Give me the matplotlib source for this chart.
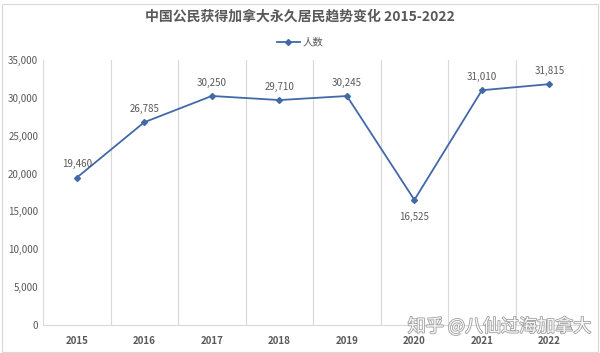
import matplotlib.pyplot as plt
import matplotlib.patheffects as pe
from matplotlib.ticker import FuncFormatter, MultipleLocator

plt.rcParams['font.family'] = ['Noto Sans CJK SC', 'DejaVu Sans']

# data
years = ['2015', '2016', '2017', '2018', '2019', '2020', '2021', '2022']
people = [19460, 26785, 30250, 29710, 30245, 16525, 31010, 31815]
label_below = [False, False, False, False, False, True, False, False]

line_color = '#4169A8'
text_color = '#595959'

fig = plt.figure(figsize=(6, 3.53), dpi=100)
ax = fig.add_axes([0.0717, 0.0793, 0.9003, 0.7507])

x = list(range(len(years)))
ax.plot(x, people, color=line_color, lw=1.3, marker='D', ms=3, label='人数')

for xi, v, below in zip(x, people, label_below):
    txt = f'{v:,}'
    if below:
        ax.annotate(txt, (xi, v), xytext=(0, -9), textcoords='offset points',
                    ha='center', va='top', fontsize=7, color=text_color)
    else:
        ax.annotate(txt, (xi, v), xytext=(0, 6), textcoords='offset points',
                    ha='center', va='bottom', fontsize=7, color=text_color)

ax.set_xlim(-0.5, len(years) - 0.5)
ax.set_ylim(0, 35000)
ax.set_xticks(x)
ax.set_xticklabels(years)
ax.xaxis.set_minor_locator(MultipleLocator(1, offset=0.5))
ax.yaxis.set_major_locator(MultipleLocator(5000))
ax.yaxis.set_major_formatter(FuncFormatter(lambda v, p: f'{int(v):,}'))
ax.grid(axis='x', which='minor', color='#D9D9D9', lw=0.8)
ax.tick_params(axis='both', which='both', length=0, colors=text_color, labelsize=7)
ax.tick_params(axis='x', pad=8)
for lbl in ax.get_xticklabels():
    lbl.set_fontweight('bold')
for s in ['top', 'right', 'left']:
    ax.spines[s].set_visible(False)
ax.spines['bottom'].set_color('#D9D9D9')

fig.text(0.5, 0.952, '中国公民获得加拿大永久居民趋势变化 2015-2022', ha='center', va='center',
         fontsize=10, fontweight='bold', color=text_color)
fig.legend(loc='center', bbox_to_anchor=(0.5, 0.88), frameon=False, fontsize=7.5,
           labelcolor=text_color, handlelength=2.2, handletextpad=0.3)

fig.text(0.832, 0.075, '知乎 @八仙过海加拿大', ha='center', va='center', fontsize=13,
         color='white', alpha=0.95,
         path_effects=[pe.withStroke(linewidth=1.2, foreground='#9A9A9A')])

fig.patches.append(plt.Rectangle((0.003, 0.003), 0.994, 0.985, transform=fig.transFigure,
                                 fill=False, edgecolor='#D9D9D9', lw=0.8))

fig.savefig('out.png', dpi=100)
